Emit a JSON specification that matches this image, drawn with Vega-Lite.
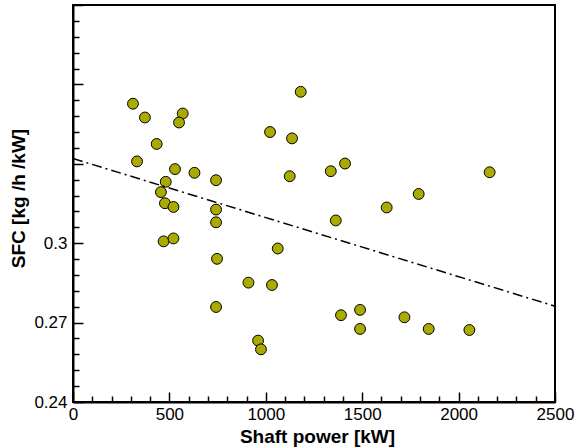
{
  "$schema": "https://vega.github.io/schema/vega-lite/v6.json",
  "width": 482,
  "height": 397,
  "autosize": "none",
  "padding": {"left": 73, "top": 5, "right": 21, "bottom": 46},
  "config": {
    "font": "Liberation Sans",
    "view": {"stroke": "black", "strokeWidth": 2},
    "axis": {
      "grid": false,
      "domainColor": "black",
      "domainWidth": 2,
      "tickColor": "black",
      "tickWidth": 1.5,
      "labelColor": "black",
      "labelFont": "Liberation Sans",
      "labelFontSize": 17,
      "labelOverlap": false,
      "labelFlush": false,
      "labelBound": false,
      "titleColor": "black",
      "titleFont": "Liberation Sans",
      "titleFontSize": 19,
      "titleFontWeight": "bold"
    }
  },
  "encoding": {
    "x": {
      "field": "power", "type": "quantitative",
      "scale": {"domain": [0, 2500], "nice": false, "zero": false},
      "axis": {
        "title": "Shaft power [kW]",
        "values": [0,100,200,300,400,500,600,700,800,900,1000,1100,1200,1300,1400,1500,1600,1700,1800,1900,2000,2100,2200,2300,2400,2500],
        "labelExpr": "datum.value % 500 == 0 ? format(datum.value, 'd') : ''",
        "labelOverlap": false,
        "tickSize": {"condition": {"test": "datum.value % 500 == 0", "value": -10}, "value": -6},
        "labelPadding": 14,
        "labelBaseline": "top",
        "titleBaseline": "alphabetic",
        "titleY": 40,
        "titleX": 244
      }
    },
    "y": {
      "field": "sfc", "type": "quantitative",
      "scale": {"domain": [0.24, 0.39], "nice": false, "zero": false},
      "axis": {
        "title": "SFC [kg /h /kW]",
        "values": [0.24,0.246,0.252,0.258,0.264,0.27,0.276,0.282,0.288,0.294,0.3,0.306,0.312,0.318,0.324,0.33,0.336,0.342,0.348,0.354,0.36,0.366,0.372,0.378,0.384,0.39],
        "labelExpr": "abs(datum.value-0.24)<1e-6 ? '0.24' : abs(datum.value-0.27)<1e-6 ? '0.27' : abs(datum.value-0.3)<1e-6 ? '0.3' : ''",
        "labelOverlap": false,
        "tickSize": {"condition": {"test": "abs(datum.value/0.03 - round(datum.value/0.03)) < 0.01", "value": -10}, "value": -6},
        "labelPadding": 16,
        "labelBaseline": "middle",
        "titleBaseline": "middle",
        "titleX": -55,
        "titleY": 193
      }
    }
  },
  "layer": [
    {
      "data": {
        "values": [
          {"power": 311, "sfc": 0.3527},
          {"power": 373, "sfc": 0.3475},
          {"power": 569, "sfc": 0.3490},
          {"power": 550, "sfc": 0.3456},
          {"power": 434, "sfc": 0.3375},
          {"power": 332, "sfc": 0.3309},
          {"power": 529, "sfc": 0.3280},
          {"power": 630, "sfc": 0.3266},
          {"power": 742, "sfc": 0.3238},
          {"power": 481, "sfc": 0.3232},
          {"power": 456, "sfc": 0.3193},
          {"power": 477, "sfc": 0.3151},
          {"power": 521, "sfc": 0.3137},
          {"power": 742, "sfc": 0.3127},
          {"power": 742, "sfc": 0.3079},
          {"power": 470, "sfc": 0.3007},
          {"power": 521, "sfc": 0.3018},
          {"power": 747, "sfc": 0.2941},
          {"power": 1062, "sfc": 0.2980},
          {"power": 910, "sfc": 0.2851},
          {"power": 1032, "sfc": 0.2842},
          {"power": 742, "sfc": 0.2759},
          {"power": 960, "sfc": 0.2632},
          {"power": 975, "sfc": 0.2599},
          {"power": 1181, "sfc": 0.3572},
          {"power": 1022, "sfc": 0.3420},
          {"power": 1136, "sfc": 0.3396},
          {"power": 1124, "sfc": 0.3253},
          {"power": 1337, "sfc": 0.3272},
          {"power": 1411, "sfc": 0.3301},
          {"power": 2161, "sfc": 0.3268},
          {"power": 1793, "sfc": 0.3186},
          {"power": 1627, "sfc": 0.3135},
          {"power": 1363, "sfc": 0.3086},
          {"power": 1390, "sfc": 0.2728},
          {"power": 1489, "sfc": 0.2748},
          {"power": 1489, "sfc": 0.2676},
          {"power": 1719, "sfc": 0.2720},
          {"power": 1845, "sfc": 0.2676},
          {"power": 2056, "sfc": 0.2672}
        ]
      },
      "mark": {"type": "circle", "size": 118, "fill": "#aaaa00", "stroke": "black", "strokeWidth": 1, "opacity": 1}
    },
    {
      "data": {"values": [{"power": 0, "sfc": 0.332}, {"power": 2500, "sfc": 0.2762}]},
      "mark": {"type": "line", "color": "black", "strokeWidth": 1.5, "strokeDash": [10, 4, 2, 4]}
    }
  ]
}
